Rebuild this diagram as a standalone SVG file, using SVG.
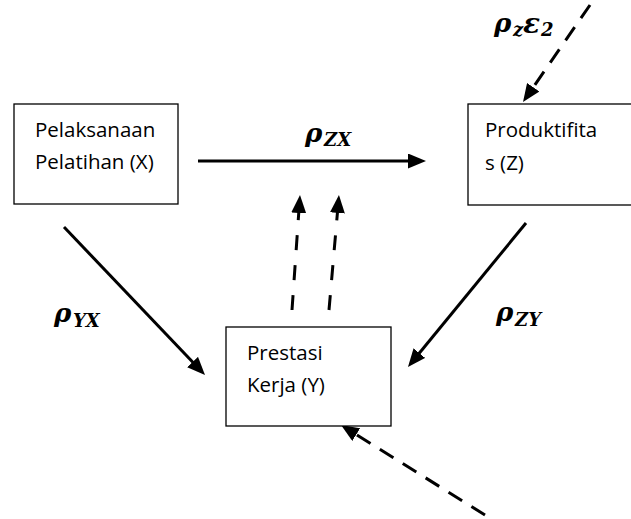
<svg xmlns="http://www.w3.org/2000/svg" width="631" height="519" viewBox="0 0 631 519">
<style>
.box{fill:#fff;stroke:#000;stroke-width:1.3}
.t{font-family:"Open Sans","Liberation Sans",sans-serif;font-size:20.5px;fill:#000}
.c{fill:none;stroke:#000;stroke-width:3}
.d{stroke-dasharray:15 15}
.d2{stroke-dasharray:16 11}
.m{font-family:"DejaVu Serif",serif;font-weight:bold;font-style:italic;fill:#000}
.big{font-size:26px}
.sub{font-size:18px}
</style>
<defs>
<marker id="ah" markerUnits="userSpaceOnUse" markerWidth="18" markerHeight="15" viewBox="0 0 18 15" refX="8" refY="7.5" orient="auto">
<path d="M0,0 L18,7.5 L0,15 z" fill="#000"/>
</marker>
</defs>
<rect width="631" height="519" fill="#fff"/>
<g id="connectors">
<line class="c" x1="198" y1="161" x2="416" y2="161" marker-end="url(#ah)"/>
<line class="c" x1="64" y1="227" x2="198.1" y2="367.8" marker-end="url(#ah)"/>
<line class="c" x1="526" y1="223" x2="414.3" y2="359.3" marker-end="url(#ah)"/>
<line class="c d" x1="292" y1="310" x2="299.3" y2="205" marker-end="url(#ah)"/>
<line class="c d" x1="329" y1="310" x2="338.1" y2="205" marker-end="url(#ah)"/>
<line class="c d2" x1="590" y1="5" x2="528.7" y2="93.8" marker-end="url(#ah)"/>
<line class="c d2" x1="485" y1="515" x2="349.5" y2="430.3" marker-end="url(#ah)"/>
</g>
<g id="labels">
<text class="m"><tspan class="big" x="305" y="142">ρ</tspan><tspan class="sub" x="324" y="146">ZX</tspan></text>
<text class="m"><tspan class="big" x="54" y="322">ρ</tspan><tspan class="sub" x="73" y="327">YX</tspan></text>
<text class="m"><tspan class="big" x="496" y="321">ρ</tspan><tspan class="sub" x="515" y="326">ZY</tspan></text>
<text class="m"><tspan class="big" x="494" y="32">ρ</tspan><tspan class="sub" x="513" y="36">z</tspan><tspan class="big" x="523" y="33" style="font-size:28px">ε</tspan><tspan class="sub" x="541" y="36">2</tspan></text>
</g>
<g id="node-x">
<rect class="box" x="14" y="104" width="164" height="100"/>
<text class="t" x="35" y="137">Pelaksanaan</text>
<text class="t" x="35" y="169">Pelatihan (X)</text>
</g>
<g id="node-z">
<rect class="box" x="468" y="104" width="175" height="101"/>
<text class="t" x="485" y="137">Produktifita</text>
<text class="t" x="485" y="170">s (Z)</text>
</g>
<g id="node-y">
<rect class="box" x="226" y="327" width="165" height="99"/>
<text class="t" x="247" y="360">Prestasi</text>
<text class="t" x="247" y="392">Kerja (Y)</text>
</g>
</svg>
